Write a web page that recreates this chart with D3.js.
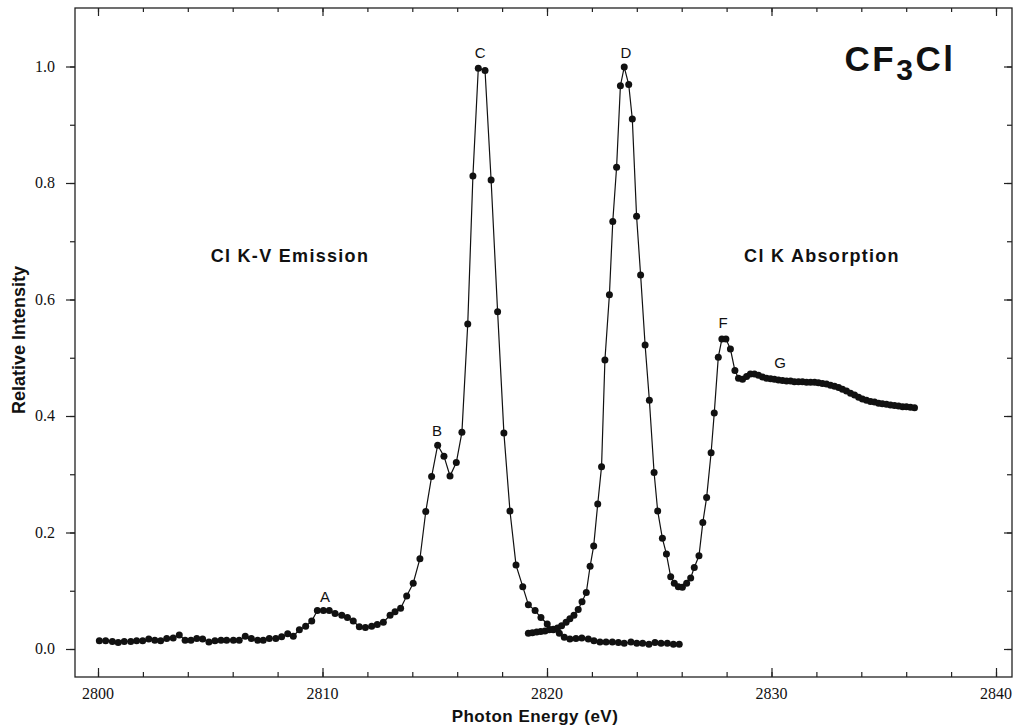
<!DOCTYPE html>
<html>
<head>
<meta charset="utf-8">
<script src="https://cdn.jsdelivr.net/npm/d3@7"></script>
<style>
  body { margin: 0; background: #fff; }
  svg { display: block; }
  .tick-label { font-family: "Liberation Serif", "DejaVu Serif", serif; font-size: 16px; fill: #111; }
  .peak-label { font-family: "Liberation Sans", Arial, sans-serif; font-size: 15px; fill: #111; }
  .region-label { font-family: "Liberation Sans", Arial, sans-serif; font-size: 18px; font-weight: bold; letter-spacing: 1.3px; fill: #111; }
</style>
</head>
<body>
<div id="chart"></div>
<script>
// Cl K-V emission (eV, relative intensity)
const emissionEnergy = [
  2800.06, 2800.34, 2800.64, 2800.90, 2801.17, 2801.46, 2801.72, 2801.99, 2802.26, 2802.53,
  2802.79, 2803.06, 2803.35, 2803.62, 2803.88, 2804.14, 2804.40, 2804.66, 2804.94, 2805.21,
  2805.48, 2805.73, 2806.03, 2806.29, 2806.56, 2806.83, 2807.11, 2807.36, 2807.63, 2807.92,
  2808.18, 2808.45, 2808.70, 2808.97, 2809.25, 2809.52, 2809.77, 2810.04, 2810.30, 2810.56,
  2810.86, 2811.11, 2811.37, 2811.64, 2811.91, 2812.19, 2812.44, 2812.71, 2813.01, 2813.23,
  2813.48, 2813.75, 2814.04, 2814.34, 2814.60, 2814.86, 2815.13, 2815.41, 2815.68, 2815.96,
  2816.21, 2816.47, 2816.70, 2816.94, 2817.24, 2817.51, 2817.80, 2818.08, 2818.35, 2818.62,
  2818.92, 2819.17, 2819.47, 2819.73, 2820.01, 2820.28, 2820.55, 2820.77, 2821.02, 2821.29,
  2821.55, 2821.84, 2822.09, 2822.36, 2822.63, 2822.91, 2823.18, 2823.44, 2823.74, 2824.00,
  2824.26, 2824.54, 2824.81, 2825.08, 2825.36, 2825.63, 2825.89
];
const emissionIntensity = [
  0.014, 0.014, 0.013, 0.011, 0.013, 0.013, 0.014, 0.014, 0.017, 0.015,
  0.014, 0.018, 0.019, 0.024, 0.015, 0.015, 0.018, 0.017, 0.012, 0.014,
  0.015, 0.015, 0.015, 0.015, 0.022, 0.018, 0.015, 0.015, 0.018, 0.018,
  0.021, 0.026, 0.022, 0.033, 0.039, 0.048, 0.066, 0.066, 0.066, 0.061,
  0.058, 0.054, 0.048, 0.038, 0.037, 0.039, 0.042, 0.046, 0.058, 0.064,
  0.070, 0.091, 0.113, 0.155, 0.236, 0.296, 0.350, 0.331, 0.297, 0.320,
  0.372, 0.558, 0.812, 0.997, 0.993, 0.805, 0.579, 0.371, 0.237, 0.144,
  0.107, 0.076, 0.066, 0.054, 0.043, 0.033, 0.027, 0.020, 0.017, 0.018,
  0.019, 0.017, 0.014, 0.012, 0.012, 0.012, 0.011, 0.010, 0.012, 0.010,
  0.010, 0.008, 0.011, 0.010, 0.010, 0.008, 0.008
];

// Cl K absorption (eV, relative intensity)
const absorptionEnergy = [
  2819.17, 2819.35, 2819.54, 2819.72, 2819.91, 2820.10, 2820.28, 2820.47, 2820.65, 2820.85,
  2821.02, 2821.20, 2821.39, 2821.56, 2821.75, 2821.92, 2822.08, 2822.26, 2822.43, 2822.58,
  2822.78, 2822.93, 2823.10, 2823.27, 2823.44, 2823.64, 2823.80, 2823.99, 2824.17, 2824.37,
  2824.56, 2824.77, 2824.93, 2825.14, 2825.32, 2825.51, 2825.67, 2825.85, 2826.03, 2826.22,
  2826.40, 2826.56, 2826.77, 2826.94, 2827.11, 2827.31, 2827.45, 2827.63, 2827.79, 2827.97,
  2828.17, 2828.37, 2828.53, 2828.71, 2828.89, 2829.06, 2829.24, 2829.42, 2829.60, 2829.78,
  2829.96, 2830.13, 2830.31, 2830.49, 2830.67, 2830.85, 2831.02, 2831.20, 2831.38, 2831.56,
  2831.74, 2831.92, 2832.09, 2832.27, 2832.45, 2832.63, 2832.81, 2832.99, 2833.16, 2833.34,
  2833.52, 2833.70, 2833.88, 2834.05, 2834.23, 2834.41, 2834.59, 2834.77, 2834.94, 2835.12,
  2835.30, 2835.48, 2835.66, 2835.84, 2836.01, 2836.19, 2836.37
];
const absorptionIntensity = [
  0.027, 0.028, 0.029, 0.030, 0.031, 0.033, 0.034, 0.036, 0.040, 0.046,
  0.052, 0.058, 0.068, 0.081, 0.097, 0.142, 0.177, 0.249, 0.313, 0.496,
  0.608, 0.734, 0.827, 0.967, 0.999, 0.969, 0.910, 0.743, 0.642, 0.522,
  0.427, 0.303, 0.237, 0.190, 0.163, 0.124, 0.113, 0.107, 0.106, 0.113,
  0.122, 0.140, 0.160, 0.217, 0.260, 0.337, 0.405, 0.501, 0.532, 0.532,
  0.515, 0.478, 0.465, 0.463, 0.468, 0.472, 0.472, 0.470, 0.467, 0.465,
  0.464, 0.463, 0.462, 0.461, 0.460, 0.460, 0.459, 0.459, 0.459, 0.458,
  0.458, 0.458, 0.457, 0.456, 0.455, 0.453, 0.451, 0.449, 0.446, 0.443,
  0.439, 0.436, 0.432, 0.429, 0.427, 0.425, 0.424, 0.422, 0.421, 0.420,
  0.419, 0.418, 0.417, 0.416, 0.416, 0.415, 0.414
];

// Peak letters and where they sit (eV, intensity)
const peakNames = ['A', 'B', 'C', 'D', 'F', 'G'];
const peakEnergy = [2810.11, 2815.10, 2817.02, 2823.52, 2827.84, 2830.38];
const peakHeight = [0.081, 0.366, 1.015, 1.015, 0.551, 0.482];

const regionNames = ['Cl K-V Emission', 'Cl K Absorption'];
const regionEnergy = [2808.55, 2832.25];
const regionHeight = [0.664, 0.664];

const xTickValues = [2800, 2810, 2820, 2830, 2840];
const yTickValues = [0.0, 0.2, 0.4, 0.6, 0.8, 1.0];

const WIDTH = 1015;
const HEIGHT = 727;
const FRAME = { left: 75, right: 1012, top: 8, bottom: 677 };

draw();

function draw() {
  const svg = d3.select('#chart')
    .append('svg')
    .attr('width', WIDTH)
    .attr('height', HEIGHT);

  const xScale = d3.scaleLinear()
    .domain([2800, 2840])
    .range([98, 996]);

  const yScale = d3.scaleLinear()
    .domain([0, 1])
    .range([649, 66.5]);

  // x minor ticks every 2 eV, y minor every 0.1
  const xMinor = d3.range(2800, 2841, 2);
  const yMinor = d3.range(0, 10.5, 1).map(d => d / 10);

  // bottom axis, ticks point inward
  const bottom = svg.append('g')
    .attr('transform', `translate(0, ${FRAME.bottom})`);
  bottom.append('g').call(d3.axisTop(xScale).tickValues(xMinor).tickSize(5).tickFormat(''))
    .call(g => g.select('.domain').remove());
  bottom.append('g').call(d3.axisTop(xScale).tickValues(xTickValues).tickSize(9).tickFormat(''))
    .call(g => g.select('.domain').remove());
  bottom.selectAll('.tick-label')
    .data(xTickValues)
    .enter()
    .append('text')
    .attr('class', 'tick-label')
    .attr('x', d => xScale(d))
    .attr('y', 22)
    .attr('text-anchor', 'middle')
    .text(d => d);

  // top axis
  const top = svg.append('g')
    .attr('transform', `translate(0, ${FRAME.top})`);
  top.append('g').call(d3.axisBottom(xScale).tickValues(xMinor).tickSize(4).tickFormat(''))
    .call(g => g.select('.domain').remove());
  top.append('g').call(d3.axisBottom(xScale).tickValues(xTickValues).tickSize(8).tickFormat(''))
    .call(g => g.select('.domain').remove());

  // left axis, ticks outward
  const left = svg.append('g')
    .attr('transform', `translate(${FRAME.left}, 0)`);
  left.append('g').call(d3.axisLeft(yScale).tickValues(yMinor).tickSize(5).tickFormat(''))
    .call(g => g.select('.domain').remove());
  left.append('g').call(d3.axisLeft(yScale).tickValues(yTickValues).tickSize(9).tickFormat(''))
    .call(g => g.select('.domain').remove());
  left.selectAll('.tick-label')
    .data(yTickValues)
    .enter()
    .append('text')
    .attr('class', 'tick-label')
    .attr('x', -20)
    .attr('y', d => yScale(d) + 5)
    .attr('text-anchor', 'end')
    .text(d => d.toFixed(1));

  // right axis, ticks inward
  const right = svg.append('g')
    .attr('transform', `translate(${FRAME.right}, 0)`);
  right.append('g').call(d3.axisLeft(yScale).tickValues(yMinor).tickSize(5).tickFormat(''))
    .call(g => g.select('.domain').remove());
  right.append('g').call(d3.axisLeft(yScale).tickValues(yTickValues).tickSize(8).tickFormat(''))
    .call(g => g.select('.domain').remove());

  svg.selectAll('.tick line').attr('stroke', '#222').attr('stroke-width', 1.2);

  // frame
  svg.append('rect')
    .attr('x', FRAME.left)
    .attr('y', FRAME.top)
    .attr('width', FRAME.right - FRAME.left)
    .attr('height', FRAME.bottom - FRAME.top)
    .attr('fill', 'none')
    .attr('stroke', '#222')
    .attr('stroke-width', 1.3);

  const emission = emissionEnergy.map((e, i) => ({ e: e, v: emissionIntensity[i] }));
  const absorption = absorptionEnergy.map((e, i) => ({ e: e, v: absorptionIntensity[i] }));

  const line = d3.line()
    .x(d => xScale(d.e))
    .y(d => yScale(d.v));

  [emission, absorption].forEach(series => {
    svg.append('path')
      .datum(series)
      .attr('d', line)
      .attr('fill', 'none')
      .attr('stroke', '#111')
      .attr('stroke-width', 1.2);

    svg.append('g')
      .selectAll('circle')
      .data(series)
      .enter()
      .append('circle')
      .attr('cx', d => xScale(d.e))
      .attr('cy', d => yScale(d.v))
      .attr('r', 3.5)
      .attr('fill', '#111');
  });

  // peak letters
  svg.selectAll('.peak-label')
    .data(peakNames)
    .enter()
    .append('text')
    .attr('class', 'peak-label')
    .attr('x', (d, i) => xScale(peakEnergy[i]))
    .attr('y', (d, i) => yScale(peakHeight[i]))
    .attr('text-anchor', 'middle')
    .text(d => d);

  svg.selectAll('.region-label')
    .data(regionNames)
    .enter()
    .append('text')
    .attr('class', 'region-label')
    .attr('x', (d, i) => xScale(regionEnergy[i]))
    .attr('y', (d, i) => yScale(regionHeight[i]))
    .attr('text-anchor', 'middle')
    .text(d => d);

  // molecule name with subscript
  const formula = svg.append('text')
    .attr('x', 900)
    .attr('y', 71)
    .attr('text-anchor', 'middle')
    .style('font-family', '"Liberation Sans", Arial, sans-serif')
    .style('font-size', '35px')
    .style('font-weight', 'bold')
    .style('letter-spacing', '2.5px')
    .style('fill', '#111');
  formula.append('tspan').text('CF');
  formula.append('tspan').attr('dy', 9).style('font-size', '30px').text('3');
  formula.append('tspan').attr('dy', -9).text('Cl');

  // axis titles
  svg.append('text')
    .attr('x', 535)
    .attr('y', 722)
    .attr('text-anchor', 'middle')
    .style('font-family', '"Liberation Sans", Arial, sans-serif')
    .style('font-size', '17px')
    .style('font-weight', 'bold')
    .style('letter-spacing', '0.5px')
    .style('fill', '#111')
    .text('Photon Energy (eV)');

  svg.append('text')
    .attr('transform', 'translate(25, 340) rotate(-90)')
    .attr('text-anchor', 'middle')
    .style('font-family', '"Liberation Sans Narrow", "Liberation Sans", Arial, sans-serif')
    .style('font-size', '18px')
    .style('font-weight', 'bold')
    .style('fill', '#111')
    .text('Relative Intensity');
}
</script>
</body>
</html>
